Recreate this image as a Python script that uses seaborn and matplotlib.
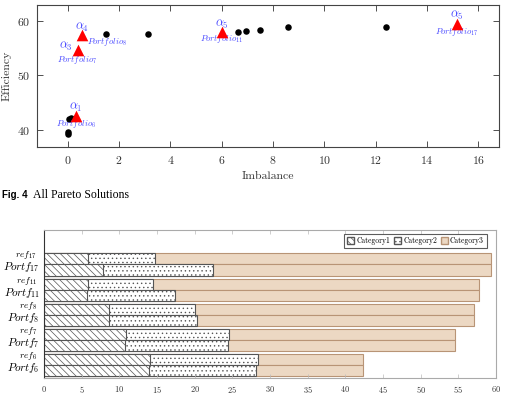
import numpy as np
import pandas as pd
import matplotlib.pyplot as plt
import seaborn as sns
from matplotlib.patches import Patch

plt.rcParams['font.family'] = 'cmr10'
plt.rcParams['mathtext.fontset'] = 'cm'
plt.rcParams['axes.formatter.use_mathtext'] = True
plt.rcParams['axes.unicode_minus'] = False
plt.rcParams['hatch.linewidth'] = 0.5

# 数据: top scatter (all pareto solutions)
imb_dots = [0.0, 0.0, 0.03, 0.12, 1.48, 3.11, 6.65, 6.95, 7.5, 8.57, 12.38]
eff_dots = [39.2, 39.6, 42.0, 42.2, 57.6, 57.6, 57.9, 58.1, 58.25, 58.8, 58.95]

# highlighted portfolios (red triangles)
imb_sel = [0.31, 0.38, 0.57, 6.0, 15.15]
eff_sel = [42.65, 54.7, 57.4, 57.95, 59.45]
alpha_lbl = [r'$\alpha_1$', r'$\alpha_3$', r'$\alpha_4$', r'$\alpha_5$', r'$\alpha_5$']
port_lbl = [r'$Portfolio_6$', r'$Portfolio_7$', r'$Portfolio_8$',
            r'$Portfolio_{11}$', r'$Portfolio_{17}$']

# 数据: bottom stacked bars
groups = ['17', '11', '8', '7', '6']
ref_cat1 = [5.9, 5.8, 8.6, 10.9, 14.1]
ref_cat2 = [8.9, 8.7, 11.4, 13.7, 14.25]
ref_cat3 = [44.5, 43.3, 37.1, 29.9, 14.05]
portf_cat1 = [7.8, 5.7, 8.6, 10.8, 14.0]
portf_cat2 = [14.6, 11.7, 11.7, 13.6, 14.2]
portf_cat3 = [36.9, 40.4, 36.8, 30.1, 14.2]

blue = '#4a4aff'
beige = '#ecd8c3'
brown = '#b89476'

fig = plt.figure(figsize=(5.11, 4.05), dpi=100)

# ---------------- top chart
ax1 = fig.add_axes([0.0724, 0.637, 0.904, 0.3506])
sns.scatterplot(x=imb_dots, y=eff_dots, color='black', s=22, linewidth=0, ax=ax1, zorder=3)
sns.scatterplot(x=imb_sel, y=eff_sel, color='red', marker='^', s=70, linewidth=0, ax=ax1, zorder=4)

# label offsets in pixels: (alpha dx, dy, ha), (portfolio dx, dy, ha)
a_off = [(0, 8, 'center'), (-5, 3, 'right'), (0, 8, 'center'), (0, 8, 'center'), (0, 8, 'center')]
p_off = [(0, -8, 'center'), (0, -10, 'center'), (5, -7, 'left'), (0, -7, 'center'), (0, -8, 'center')]
for i in range(len(imb_sel)):
    ax1.annotate(alpha_lbl[i], (imb_sel[i], eff_sel[i]), xytext=a_off[i][:2],
                 textcoords='offset pixels', ha=a_off[i][2], va='center',
                 color=blue, fontsize=9)
    ax1.annotate(port_lbl[i], (imb_sel[i], eff_sel[i]), xytext=p_off[i][:2],
                 textcoords='offset pixels', ha=p_off[i][2], va='center',
                 color=blue, fontsize=6.3)

ax1.set_xlim(-1.2, 16.8)
ax1.set_ylim(36.9, 62.9)
ax1.set_xticks(np.arange(0, 17, 2))
ax1.set_yticks([40, 50, 60])
ax1.tick_params(direction='in', top=True, right=True, length=4, width=0.6,
                labelsize=8.5, colors='#333333', pad=5)
for s in ax1.spines.values():
    s.set_color('#444444')
    s.set_linewidth(0.8)
ax1.set_xlabel('Imbalance', fontsize=8.5, color='#333333', labelpad=4)
ax1.set_ylabel('Efficiency', fontsize=8.5, color='#333333', labelpad=4)

# caption
fig.text(0.004, 0.519, 'Fig. 4', fontsize=7, fontweight='bold',
         family='Liberation Sans', va='center')
fig.text(0.065, 0.519, 'All Pareto Solutions', fontsize=8.5,
         family='Liberation Serif', va='center')

# ---------------- bottom chart
df = pd.DataFrame({
    'group': groups * 2,
    'kind': ['ref'] * len(groups) + ['Portf'] * len(groups),
    'c1': ref_cat1 + portf_cat1,
    'c2': ref_cat2 + portf_cat2,
    'c3': ref_cat3 + portf_cat3,
})
df['c12'] = df['c1'] + df['c2']
df['total'] = df['c12'] + df['c3']

ax2 = fig.add_axes([0.0861, 0.0667, 0.8845, 0.3654])
layers = [('total', beige, brown, None),
          ('c12', 'white', '#555555', '....'),
          ('c1', 'white', '#555555', '\\\\\\\\\\')]
for col, fc, ec, hatch in layers:
    n0 = len(ax2.patches)
    sns.barplot(data=df, x=col, y='group', hue='kind', order=groups,
                hue_order=['ref', 'Portf'], palette=[fc, fc], orient='h',
                width=0.88, saturation=1, errorbar=None, legend=False,
                edgecolor=ec, linewidth=0.8, ax=ax2)
    for p in ax2.patches[n0:]:
        if hatch:
            p.set_hatch(hatch)
        p.set_edgecolor(ec)

ax2.set_xlim(0, 60)
ax2.set_ylim(4.53, -1.376)
ax2.set_xticks(np.arange(0, 61, 5))
ax2.set_xlabel('')
ax2.set_ylabel('')
pos = np.arange(len(groups))
ax2.set_yticks(pos + 0.04, [r'$Portf_{%s}$' % g for g in groups])
ax2.set_yticks(pos - 0.44, [r'$ref_{%s}$' % g for g in groups], minor=True)
ax2.tick_params(axis='y', which='major', labelsize=8, length=0, pad=3)
ax2.tick_params(axis='y', which='minor', labelsize=6.8, length=0, pad=5)
ax2.tick_params(axis='x', direction='in', top=True, length=3, width=0.5,
                labelsize=6, colors='#bbbbbb', labelcolor='#333333', pad=4)
for name, s in ax2.spines.items():
    s.set_color('#333333' if name == 'left' else '#aaaaaa')
    s.set_linewidth(0.8)

handles = [Patch(facecolor='white', edgecolor='#555555', hatch='\\\\\\\\\\', label='Category1'),
           Patch(facecolor='white', edgecolor='#555555', hatch='....', label='Category2'),
           Patch(facecolor=beige, edgecolor=brown, label='Category3')]
leg = ax2.legend(handles=handles, loc='upper right', bbox_to_anchor=(0.98, 0.975),
                 ncol=3, fontsize=5.5, frameon=True, fancybox=False,
                 handlelength=0.9, handleheight=1.0, handletextpad=0.3,
                 columnspacing=0.5, borderpad=0.4, borderaxespad=0)
leg.get_frame().set_edgecolor('#333333')
leg.get_frame().set_linewidth(0.8)

fig.savefig('out.png', dpi=100)
